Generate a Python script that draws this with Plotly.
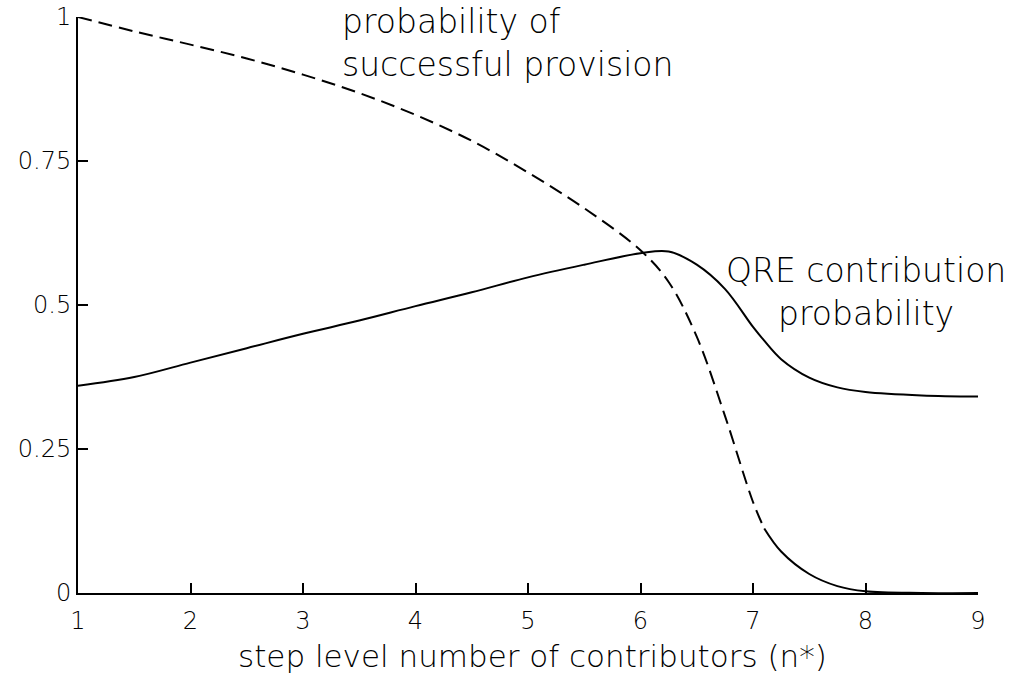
import plotly.graph_objects as go

# Step level n* on the horizontal axis
n_star = [1, 1.5, 2, 2.5, 3, 3.5, 4, 4.5, 5, 5.5, 6, 6.25, 6.5, 6.75, 7, 7.1,
          7.25, 7.5, 7.75, 8, 8.5, 9]

# Probability that the public good is provided
success_prob = [1.0, 0.975, 0.952, 0.928, 0.90, 0.868, 0.83, 0.785, 0.73, 0.668,
                0.595, 0.54, 0.445, 0.308, 0.158, 0.112, 0.072, 0.033, 0.012,
                0.003, 0.0, 0.0]

# QRE probability that an individual contributes
qre_prob = [0.36, 0.375, 0.40, 0.425, 0.45, 0.473, 0.498, 0.522, 0.548, 0.57,
            0.59, 0.593, 0.57, 0.528, 0.462, 0.438, 0.406, 0.374, 0.357, 0.349,
            0.343, 0.341]

x_ticks = [1, 2, 3, 4, 5, 6, 7, 8, 9]
y_ticks = [0, 0.25, 0.5, 0.75, 1]
y_tick_text = ["0", "0.25", "0.5", "0.75", "1"]

FONT = "DejaVu Sans"
split = n_star.index(7.1)

fig = go.Figure()
# provision probability: dashed until the tail, solid afterwards
fig.add_trace(go.Scatter(
    x=n_star[:split + 1], y=success_prob[:split + 1], mode="lines",
    line=dict(color="black", width=2, dash="14px,7px", shape="spline"),
    cliponaxis=False, showlegend=False))
fig.add_trace(go.Scatter(
    x=n_star[split:], y=success_prob[split:], mode="lines",
    line=dict(color="black", width=2, shape="spline"),
    cliponaxis=False, showlegend=False))
fig.add_trace(go.Scatter(
    x=n_star, y=qre_prob, mode="lines",
    line=dict(color="black", width=2, shape="spline"),
    cliponaxis=False, showlegend=False))

fig.add_annotation(
    x=3.33, y=0.955, xref="x", yref="y", xanchor="left", yanchor="middle",
    text="probability of<br>successful provision", align="left", showarrow=False,
    font=dict(family=FONT, size=33, color="black", weight=200))
fig.add_annotation(
    x=8.0, y=0.523, xref="x", yref="y", xanchor="center", yanchor="middle",
    text="QRE contribution<br>probability", align="center", showarrow=False,
    font=dict(family=FONT, size=33, color="black", weight=200))
# horizontal axis title
fig.add_annotation(
    x=0.505, y=-0.1094, xref="paper", yref="paper", xanchor="center", yanchor="middle",
    text="step level number of contributors (n*)", showarrow=False,
    font=dict(family=FONT, size=31, color="black", weight=200))

axis_common = dict(
    showgrid=False, zeroline=False, showline=True, linecolor="black",
    linewidth=2, ticks="inside", ticklen=10, tickwidth=2, tickcolor="black",
    automargin=False,
    tickfont=dict(family=FONT, size=24, color="black", weight=200),
)
fig.update_xaxes(
    range=[1, 9], tickvals=x_ticks, ticktext=[str(v) for v in x_ticks],
    ticklabelstandoff=5, **axis_common)
fig.update_yaxes(
    range=[0, 1], tickvals=y_ticks, ticktext=y_tick_text,
    ticklabelstandoff=0, **axis_common)

fig.update_layout(
    width=1016, height=677,
    margin=dict(l=78, r=38, t=17, b=84),
    paper_bgcolor="white", plot_bgcolor="white",
)

fig.write_html("out.html")
